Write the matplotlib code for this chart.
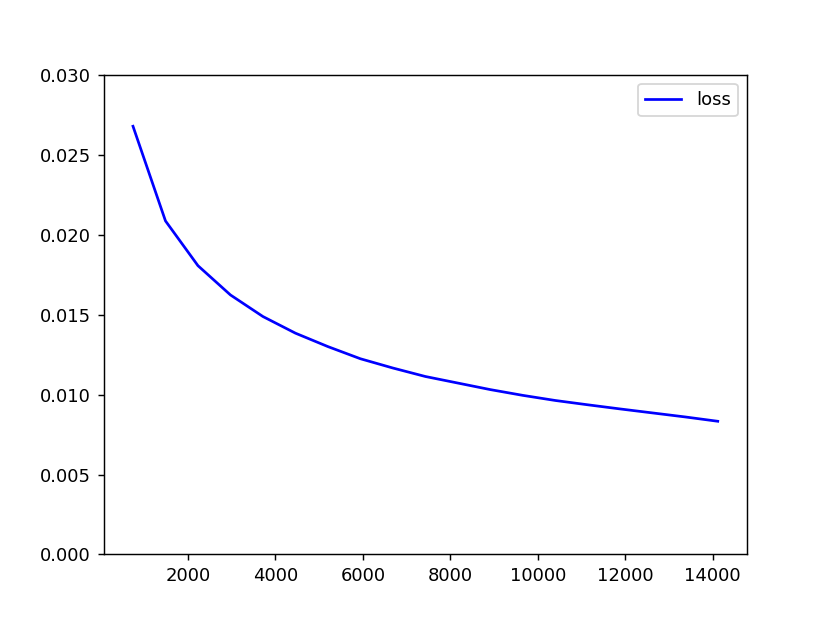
import matplotlib
matplotlib.use('Agg')
import matplotlib.pyplot as plt
import numpy as np

# iteration at which the loss was recorded
steps = [743, 1486, 2229, 2972, 3715, 4458, 5201, 5944, 6687, 7430,
         8173, 8916, 9659, 10402, 11145, 11888, 12631, 13374, 14117]
# training loss
loss = [0.02678, 0.02086, 0.01806, 0.01623, 0.01488, 0.01384, 0.01300,
        0.01224, 0.01166, 0.01113, 0.01072, 0.01031, 0.00995, 0.00963,
        0.00936, 0.00910, 0.00885, 0.00860, 0.00833]

# default figure size, rendered at ~130 dpi
fig = plt.figure(figsize=(830 / 130, 623 / 130), dpi=130)
plt.plot(steps, loss, 'b', label='loss')
plt.ylim(0, 0.03)
plt.legend()
plt.savefig('out.png', dpi=130)
